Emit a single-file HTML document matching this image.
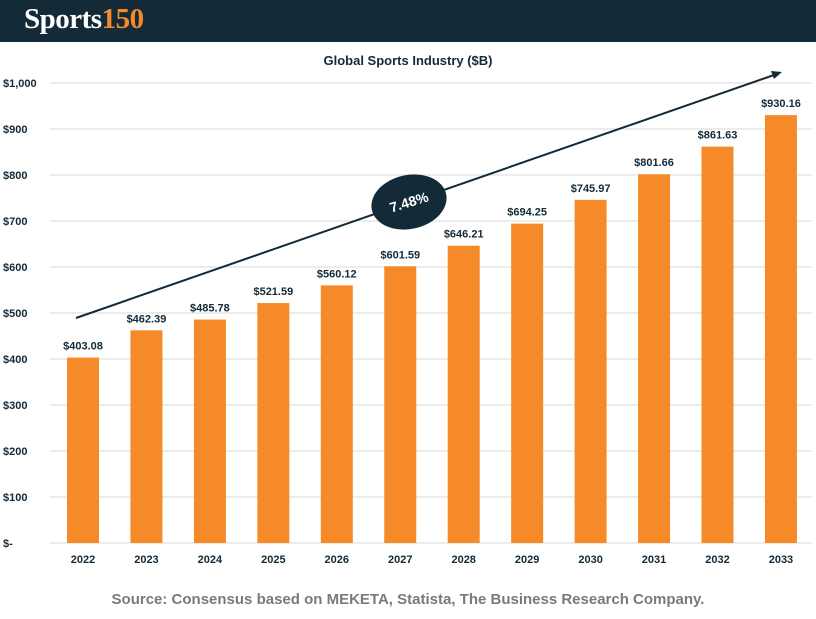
<!DOCTYPE html>
<html><head><meta charset="utf-8"><style>
body{margin:0;width:816px;height:619px;background:#fff;overflow:hidden;font-family:"Liberation Sans",sans-serif}
#hdr{position:absolute;left:0;top:0;width:816px;height:42px;background:#132a38}
#logo{position:absolute;left:24px;top:3px;font-family:"Liberation Serif",serif;font-weight:bold;font-size:29px;color:#fff;letter-spacing:-0.5px}
#logo span{color:#f68a29}
#src{position:absolute;left:0;width:816px;top:591px;text-align:center;font-weight:bold;font-size:15px;color:#7a7a7a}
</style></head><body>
<div id="hdr"><div id="logo">Sports<span>150</span></div></div>
<svg id="chart" width="816" height="619" style="position:absolute;left:0;top:0">
<text x="408" y="65" text-anchor="middle" font-size="13" font-weight="bold" fill="#132a38">Global Sports Industry ($B)</text>
<g id="grid"></g><g id="bars"></g>
<g>
<line x1="76" y1="318" x2="774" y2="75" stroke="#132a38" stroke-width="2"/>
<polygon points="782,72 771,71 774,79" fill="#132a38"/>
<ellipse cx="409" cy="202" rx="38" ry="27" transform="rotate(-12 409 202)" fill="#132a38"/>
<text x="409" y="207" text-anchor="middle" font-size="14" font-weight="bold" fill="#fff" transform="rotate(-17 409 202)">7.48%</text>
</g>
</svg>
<div id="src">Source: Consensus based on MEKETA, Statista, The Business Research Company.</div>
<script>
const categories=["2022","2023","2024","2025","2026","2027","2028","2029","2030","2031","2032","2033"];
const values=[403.08,462.39,485.78,521.59,560.12,601.59,646.21,694.25,745.97,801.66,861.63,930.16];
const yTicks=[0,100,200,300,400,500,600,700,800,900,1000];
const yTickLabels=["$-","$100","$200","$300","$400","$500","$600","$700","$800","$900","$1,000"];
const NS="http://www.w3.org/2000/svg";
const y=v=>543-v*0.46;
const x=i=>83+i*63.45;
function mk(t,a,p){const e=document.createElementNS(NS,t);for(const k in a)e.setAttribute(k,a[k]);p.appendChild(e);return e;}
const g=document.getElementById('grid'),b=document.getElementById('bars');
yTicks.forEach((t,i)=>{
 const l=mk('line',{x1:50,x2:812,y1:y(t),y2:y(t),stroke:'#d9d9d9','stroke-width':1},g);
 
 
 const tx=mk('text',{x:3,y:y(t)+4,'font-size':11,'font-weight':'bold',fill:'#132a38'},g);
 tx.textContent=yTickLabels[i];
 
 
});
categories.forEach((c,i)=>{
 const r=mk('rect',{x:x(i)-16,y:y(values[i]),width:32,height:543-y(values[i]),fill:'#f68a29'},b);
 
 
 const v=mk('text',{x:x(i),y:y(values[i])-8,'text-anchor':'middle','font-size':11,'font-weight':'bold',fill:'#132a38'},b);
 v.textContent='$'+values[i].toFixed(2);
 
 
 const cl=mk('text',{x:x(i),y:563,'text-anchor':'middle','font-size':11,'font-weight':'bold',fill:'#132a38'},b);
 cl.textContent=c;
 
 
});
</script>
</body></html>
